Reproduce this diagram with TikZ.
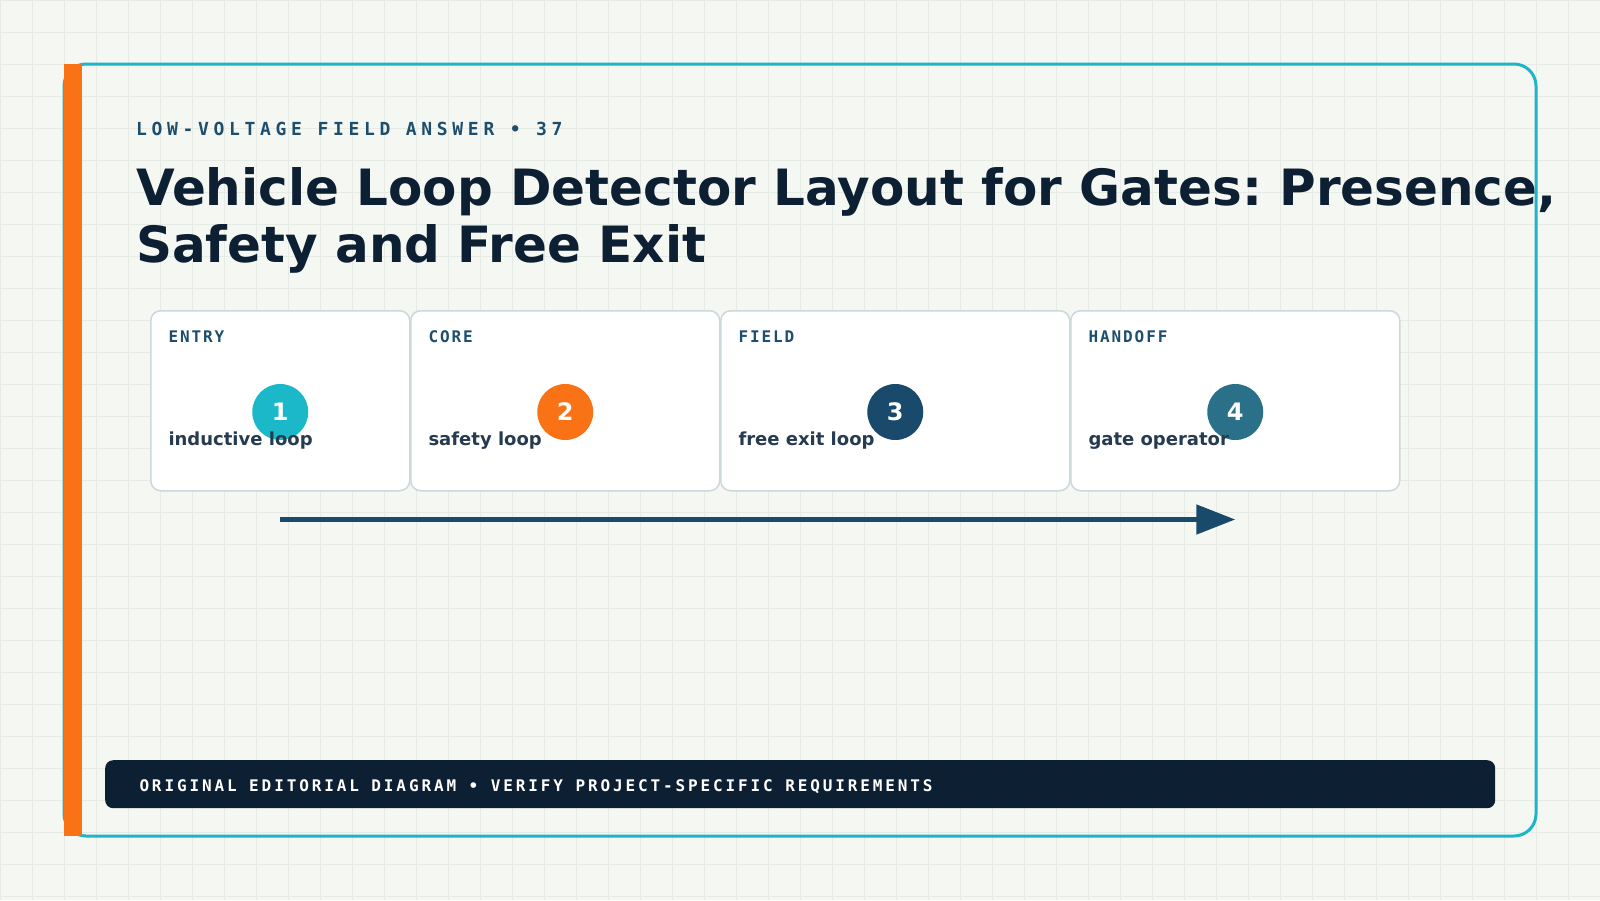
\documentclass[tikz,border=0pt]{standalone}
\usepackage{fontspec}
\usetikzlibrary{arrows.meta}
\setmainfont{DejaVu Sans}
\newfontfamily\eyefont{DejaVu Sans Mono}[LetterSpace=26]
\newfontfamily\labfont{DejaVu Sans Mono}[LetterSpace=12]
\newfontfamily\footfont{DejaVu Sans Mono}[LetterSpace=18]
\definecolor{bgc}{HTML}{F5F7F2}
\definecolor{gridc}{HTML}{E6EBE5}
\definecolor{framec}{HTML}{1DB5C8}
\definecolor{orangec}{HTML}{F97316}
\definecolor{navy}{HTML}{0D1F33}
\definecolor{eyec}{HTML}{1D4E6E}
\definecolor{bodyc}{HTML}{263A50}
\definecolor{cardline}{HTML}{CCD8DC}
\definecolor{cA}{HTML}{1AB8C9}
\definecolor{cB}{HTML}{F97316}
\definecolor{cC}{HTML}{1A4A6B}
\definecolor{cD}{HTML}{2B7089}
\frenchspacing
\begin{document}
\begin{tikzpicture}[x=1pt,y=-1pt,
  txt/.style={inner sep=0pt, outer sep=0pt, anchor=base west},
  cardbox/.style={draw=cardline, line width=1.5pt, fill=white, rounded corners=10pt, inner sep=0pt, minimum height=180pt, anchor=north west},
  badge/.style={circle, minimum size=56pt, inner sep=0pt, text=white, font=\fontsize{24}{24}\selectfont\bfseries},
  lab/.style={txt, text=eyec, font=\labfont\fontsize{16}{16}\selectfont\bfseries},
  body/.style={txt, text=bodyc, font=\fontsize{18}{18}\selectfont\bfseries},
  titletext/.style={txt, text=navy, font=\fontsize{50}{57}\selectfont\bfseries}]
\useasboundingbox (0,0) rectangle (1600,900);
\fill[bgc] (0,0) rectangle (1600,900);
\foreach \gx in {0,32,...,1600} {\draw[gridc, line width=1pt] (\gx,0) -- (\gx,900);}
\foreach \gy in {0,32,...,900} {\draw[gridc, line width=1pt] (0,\gy) -- (1600,\gy);}

% eyebrow and title
\node[txt, text=eyec, font=\eyefont\fontsize{18}{18}\selectfont\bfseries] (eyebrow) at (136,135.5) {LOW-VOLTAGE FIELD ANSWER • 37};
\node[titletext] (title1) at (136,205) {Vehicle Loop Detector Layout for Gates: Presence,};
\node[titletext] (title2) at (136,262) {Safety and Free Exit};

% cards
\node[cardbox, minimum width=259pt] (card1) at (150,310) {};
\node[cardbox, minimum width=309pt] (card2) at (410,310) {};
\node[cardbox, minimum width=349pt] (card3) at (720,310) {};
\node[cardbox, minimum width=329pt] (card4) at (1070,310) {};

\node[lab] (lab1) at ([shift={(18.5,32)}]card1.north west) {ENTRY};
\node[lab] (lab2) at ([shift={(18.5,32)}]card2.north west) {CORE};
\node[lab] (lab3) at ([shift={(18.5,32)}]card3.north west) {FIELD};
\node[lab] (lab4) at ([shift={(18.5,32)}]card4.north west) {HANDOFF};

\node[badge, fill=cA] (n1) at ([shift={(0,102)}]card1.north) {1};
\node[badge, fill=cB] (n2) at ([shift={(0,102)}]card2.north) {2};
\node[badge, fill=cC] (n3) at ([shift={(0,102)}]card3.north) {3};
\node[badge, fill=cD] (n4) at ([shift={(0,102)}]card4.north) {4};

\node[body] (b1) at ([shift={(18.5,135)}]card1.north west) {inductive loop};
\node[body] (b2) at ([shift={(18.5,135)}]card2.north west) {safety loop};
\node[body] (b3) at ([shift={(18.5,135)}]card3.north west) {free exit loop};
\node[body] (b4) at ([shift={(18.5,135)}]card4.north west) {gate operator};

% flow arrow
\coordinate (as) at ([shift={(0,107.5)}]n1.center);
\coordinate (ae) at ([shift={(0,107.5)}]n4.center);
\draw[cC, line width=5pt, -{Triangle[length=39pt,width=29pt]}] (as) -- (ae);

% footer
\node[fill=navy, rounded corners=8pt, minimum width=1390pt, minimum height=48pt, inner sep=0pt, anchor=north west] (foot) at (105,760) {};
\node[txt, text=white, font=\footfont\fontsize{16}{16}\selectfont\bfseries] (foottext) at (139.5,791) {ORIGINAL EDITORIAL DIAGRAM • VERIFY PROJECT-SPECIFIC REQUIREMENTS};

% frame and accent bar
\draw[framec, line width=3pt, rounded corners=22pt] (64,64) rectangle (1536,836);
\fill[orangec] (64,64) rectangle (82,836);
\end{tikzpicture}
\end{document}
